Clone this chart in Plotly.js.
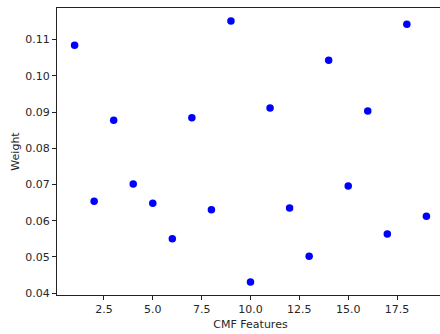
<!DOCTYPE html>
<html>
<head>
<meta charset="utf-8">
<script src="https://cdn.plot.ly/plotly-3.0.1.min.js"></script>
<style>
html,body{margin:0;padding:0;width:440px;height:334px;overflow:hidden;background:#fff;}
#chart{width:450px;height:334px;}
</style>
</head>
<body>
<div id="chart"></div>
<script>
const features = [1,2,3,4,5,6,7,8,9,10,11,12,13,14,15,16,17,18,19];
const weights = [0.1084,0.0654,0.0877,0.0701,0.0648,0.0550,0.0884,0.0630,0.1151,0.0431,0.0911,0.0635,0.0502,0.1043,0.0696,0.0903,0.0563,0.1142,0.0612];
const xTitle = "CMF Features";
const yTitle = "Weight";

const font = {family: "DejaVu Sans, sans-serif", size: 11, color: "#262626"};
Plotly.newPlot("chart", [{
  x: features, y: weights, type: "scatter", mode: "markers",
  marker: {color: "#0000ff", size: 7.5}, hoverinfo: "none"
}], {
  width: 450, height: 334,
  margin: {l: 57, r: 6, t: 8, b: 39},
  paper_bgcolor: "#fff", plot_bgcolor: "#fff",
  font: font, showlegend: false,
  xaxis: {
    range: [0.1, 19.9], tick0: 0, dtick: 2.5, tickformat: ".1f",
    showgrid: false, zeroline: false, showline: true, mirror: true,
    linecolor: "#222", linewidth: 1, ticks: "outside", ticklen: 4, tickcolor: "#222",
    title: {text: xTitle, font: font, standoff: 5}
  },
  yaxis: {
    range: [0.0395, 0.1187], tick0: 0, dtick: 0.01, tickformat: ".2f",
    showgrid: false, zeroline: false, showline: true, mirror: true,
    linecolor: "#222", linewidth: 1, ticks: "outside", ticklen: 4, tickcolor: "#222",
    title: {text: yTitle, font: font, standoff: 3}
  }
}, {displayModeBar: false, staticPlot: true});
</script>
</body>
</html>
